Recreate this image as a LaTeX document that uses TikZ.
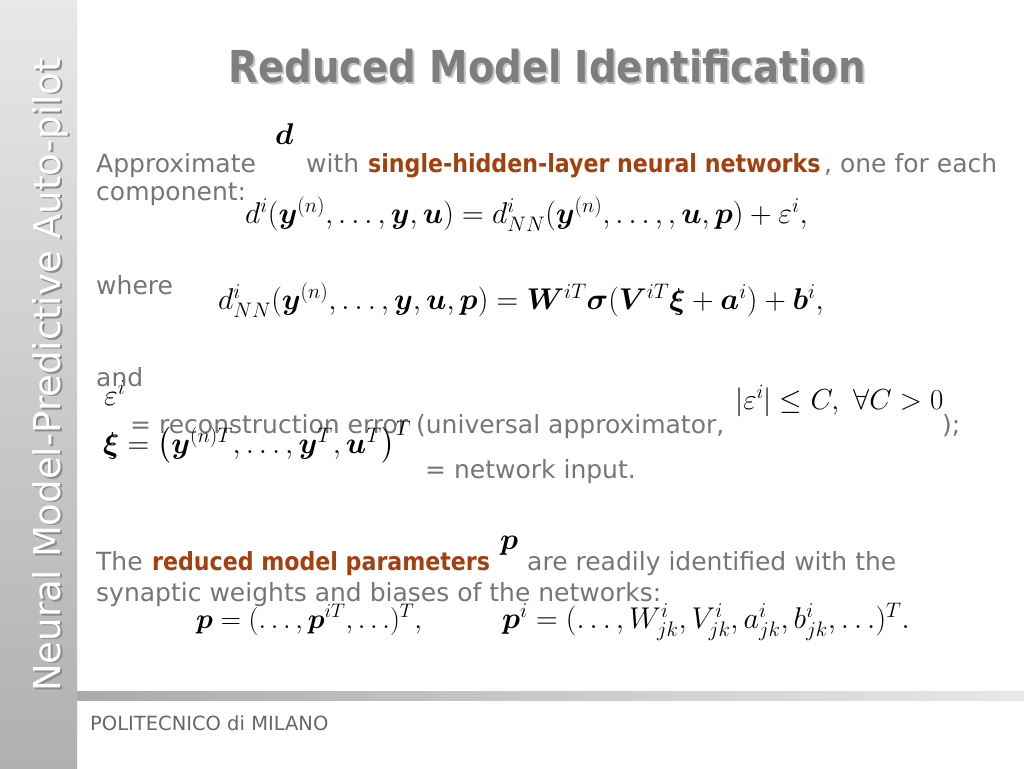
\RequirePackage{fix-cm}
\documentclass[tikz,border=0pt]{standalone}
\usepackage{amsmath}
\usepackage{amssymb}
\usepackage{bm}
\usepackage{fontspec}
\setmainfont{DejaVu Sans}
\usepackage{tikz}

\definecolor{txtgray}{HTML}{767676}
\definecolor{titlegray}{HTML}{7E7E7E}
\definecolor{shadowgray}{HTML}{C4C4C4}
\definecolor{hlbrown}{HTML}{A3400E}

\begin{document}
\begin{tikzpicture}[
   x=1pt,y=-1pt,
   txt/.style={anchor=base west,inner sep=0pt,text=txtgray,font=\fontsize{25}{30}\selectfont},
   mth/.style={anchor=base west,inner sep=0pt,text=black,font=\fontsize{30}{36}\selectfont},
   hl/.style={txt,text=hlbrown,font=\fontsize{25}{30}\selectfont\bfseries,xscale=0.885},
   heading/.style={anchor=base,inner sep=0pt,font=\fontsize{44}{50}\selectfont\bfseries,xscale=0.877},
   side/.style={anchor=center,inner sep=0pt,rotate=90,font=\fontsize{37}{42}\selectfont}]
% background
\useasboundingbox (0,0) rectangle (1024,768);
\fill[white] (0,0) rectangle (1024,768);
\shade[top color=black!9,bottom color=black!31] (0,0) rectangle (77,768);
\shade[left color=black!33,right color=black!9] (77,691) rectangle (1024,700);
% sidebar and title
\node[side,text=black!45] (side shadow) at (52,376.5) {Neural Model-Predictive Auto-pilot};
\node[side,text=white] (side) at (50.5,375) {Neural Model-Predictive Auto-pilot};
\node[heading,text=shadowgray] (title shadow) at (549,84) {Reduced Model Identification};
\node[heading,text=titlegray] (title) at (547,82) {Reduced Model Identification};
% first paragraph
\node[mth] (dlab) at (275,144) {$\bm{d}$};
\node[txt] (approx) at (96,172) {Approximate};
\node[txt] (with) at (306,172) {with};
\node[hl] (nets) at (368,172) {single-hidden-layer neural networks};
\node[txt] (each) at (824,172) {, one for each};
\node[txt] (comp) at (96,200) {component:};
\node[mth] (eqd) at (245,223) {$d^{i}(\bm{y}^{(n)},\ldots,\bm{y},\bm{u})=d^{i}_{NN}(\bm{y}^{(n)},\ldots,,\bm{u},\bm{p})+\varepsilon^{i},$};
% where
\node[txt] (where) at (96,294) {where};
\node[mth] (eqnn) at (218,309) {$d^{i}_{NN}(\bm{y}^{(n)},\ldots,\bm{y},\bm{u},\bm{p})=\bm{W}^{iT}\bm{\sigma}(\bm{V}^{iT}\bm{\xi}+\bm{a}^{i})+\bm{b}^{i},$};
% and
\node[txt] (and) at (96,386) {and};
\node[mth] (eps) at (104,405) {$\varepsilon^{i}$};
\node[mth,font=\fontsize{29}{34}\selectfont] (bound) at (735,409) {$|\varepsilon^{i}|\leq C,\ \forall C>0$};
\node[txt] (recon) at (130,433) {= reconstruction error (universal approximator,};
\node[txt] (close) at (942,433) {);};
\node[mth] (xi) at (103,453) {$\bm{\xi}=\bigl(\bm{y}^{(n)T},\ldots,\bm{y}^{T},\bm{u}^{T}\bigr)^{T}$};
\node[txt] (input) at (425,478) {= network input.};
% parameters
\node[mth] (plab) at (500,549) {$\bm{p}$};
\node[txt] (the) at (96,570) {The};
\node[hl] (par) at (152,570) {reduced model parameters};
\node[txt] (are) at (527,570) {are readily identified with the};
\node[txt] (syn) at (96,601) {synaptic weights and biases of the networks:};
\node[mth,font=\fontsize{28}{34}\selectfont] (eqp) at (196,628) {$\bm{p}=(\ldots,\bm{p}^{iT},\ldots)^{T},$};
\node[mth] (eqpi) at (502,628) {$\bm{p}^{i}=(\ldots,W^{i}_{jk},V^{i}_{jk},a^{i}_{jk},b^{i}_{jk},\ldots)^{T}.$};
% footer
\node[txt,text=black!60,font=\fontsize{19.5}{24}\selectfont] (footer) at (90,730) {POLITECNICO di MILANO};
\end{tikzpicture}
\end{document}
